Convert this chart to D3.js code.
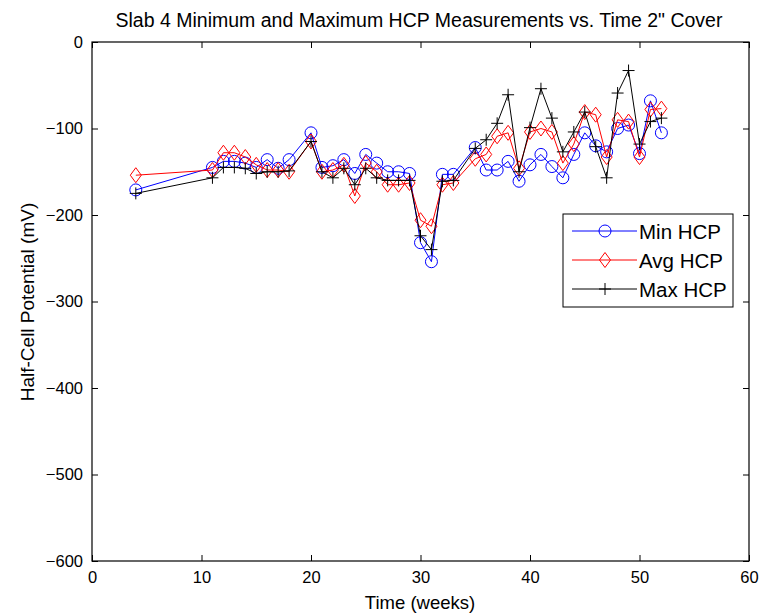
<!DOCTYPE html>
<html><head><meta charset="utf-8">
<script src="https://cdn.jsdelivr.net/npm/d3@7"></script>
<style>
body{margin:0;background:#fff;}
text{font-family:"Liberation Sans",Arial,sans-serif;fill:#000;}
</style></head>
<body><svg id="c" width="761" height="615"></svg>
<script>
const weeks = [4,11,12,13,14,15,16,17,18,20,21,22,23,24,25,26,27,28,29,30,31,32,33,35,36,37,38,39,40,41,42,43,44,45,46,47,48,49,50,51,52];
const minHCP = [-171,-145,-138,-138,-140,-145,-136,-146,-136,-105,-145,-143,-136,-152,-130,-140,-150,-150,-152,-232,-254,-153,-153,-122,-148,-148,-138,-161,-142,-130,-144,-157,-130,-105,-120,-127,-100,-96,-129,-68,-105];
const avgHCP = [-154,-148,-128,-128,-133,-142,-148,-148,-150,-115,-150,-148,-142,-178,-140,-150,-165,-165,-163,-206,-213,-165,-163,-135,-130,-109,-105,-146,-104,-100,-104,-140,-118,-81,-84,-133,-90,-92,-133,-78,-77];
const maxHCP = [-175,-157,-145,-145,-146,-152,-150,-150,-149,-115,-150,-157,-146,-165,-146,-157,-160,-160,-160,-224,-240,-161,-160,-123,-113,-94,-61,-150,-99,-54,-88,-127,-104,-81,-121,-157,-59,-33,-118,-92,-88];
const xTicks = [0,10,20,30,40,50,60];
const yTicks = [0,-100,-200,-300,-400,-500,-600];
const seriesNames = ["Min HCP","Avg HCP","Max HCP"];
const seriesColors = ["#0000ff","#ff0000","#000000"];
const seriesMarkers = ["circle","diamond","plus"];
const titleText = 'Slab 4 Minimum and Maximum HCP Measurements vs. Time 2" Cover';

const L=92,R=749,T=42,B=561;
const x=d3.scaleLinear().domain([0,60]).range([L,R]);
const y=d3.scaleLinear().domain([-600,0]).range([B,T]);
const svg=d3.select("#c");
svg.append("rect").attr("width",761).attr("height",615).attr("fill","#fff");

const tl=6;
const g=svg.append("g");
const ax=g.append("g").attr("transform",`translate(0,${B})`).call(d3.axisBottom(x).tickValues(xTicks).tickSize(-tl).tickPadding(tl+4).tickSizeOuter(0));
const axT=g.append("g").attr("transform",`translate(0,${T})`).call(d3.axisTop(x).tickValues(xTicks).tickSize(-tl).tickFormat("").tickSizeOuter(0));
const ay=g.append("g").attr("transform",`translate(${L},0)`).call(d3.axisLeft(y).tickValues(yTicks).tickSize(-tl).tickPadding(tl+3).tickSizeOuter(0));
const ayR=g.append("g").attr("transform",`translate(${R},0)`).call(d3.axisRight(y).tickValues(yTicks).tickSize(-tl).tickFormat("").tickSizeOuter(0));
[ax,axT,ay,ayR].forEach(a=>{a.select(".domain").remove();a.selectAll("line").attr("stroke","#000");a.selectAll("text").attr("font-size",16.5).attr("font-family",null);});
g.append("rect").attr("x",L).attr("y",T).attr("width",R-L).attr("height",B-T).attr("fill","none").attr("stroke","#000").attr("stroke-width",1.2);

function marker(sel,type,color,s){
  if(type==="circle") sel.append("circle").attr("r",s).attr("fill","none").attr("stroke",color);
  else if(type==="diamond") sel.append("path").attr("d",`M0,${-s-1.5}L${s-0.5},0L0,${s+1.5}L${-s+0.5},0Z`).attr("fill","none").attr("stroke",color);
  else sel.append("path").attr("d",`M${-s},0H${s}M0,${-s}V${s}`).attr("fill","none").attr("stroke",color);
}
const series=[minHCP,avgHCP,maxHCP];
series.forEach((vals,i)=>{
  const pts=weeks.map((w,j)=>[w,vals[j]]);
  const line=d3.line().x(d=>x(d[0])).y(d=>y(d[1]));
  g.append("path").datum(pts).attr("d",line).attr("fill","none").attr("stroke",seriesColors[i]).attr("stroke-width",1);
  pts.forEach(p=>{
    const m=g.append("g").attr("transform",`translate(${x(p[0])},${y(p[1])})`);
    marker(m,seriesMarkers[i],seriesColors[i],6);
  });
});

// legend
const lg=svg.append("g");
lg.append("rect").attr("x",563).attr("y",214).attr("width",170).attr("height",93).attr("fill","#fff").attr("stroke","#000");
seriesNames.forEach((n,i)=>{
  const yy=231+i*29;
  lg.append("line").attr("x1",572).attr("x2",637).attr("y1",yy).attr("y2",yy).attr("stroke",seriesColors[i]);
  const m=lg.append("g").attr("transform",`translate(605,${yy})`);
  marker(m,seriesMarkers[i],seriesColors[i],6);
  lg.append("text").attr("x",639).attr("y",yy+7.5).attr("font-size",20.5).text(n);
});

svg.append("text").attr("x",419).attr("y",27).attr("text-anchor","middle").attr("font-size",19.5).text(titleText);
svg.append("text").attr("x",420).attr("y",609).attr("text-anchor","middle").attr("font-size",18.5).text("Time (weeks)");
svg.append("text").attr("transform","translate(34,302) rotate(-90)").attr("text-anchor","middle").attr("font-size",19).text("Half-Cell Potential (mV)");
</script></body></html>
